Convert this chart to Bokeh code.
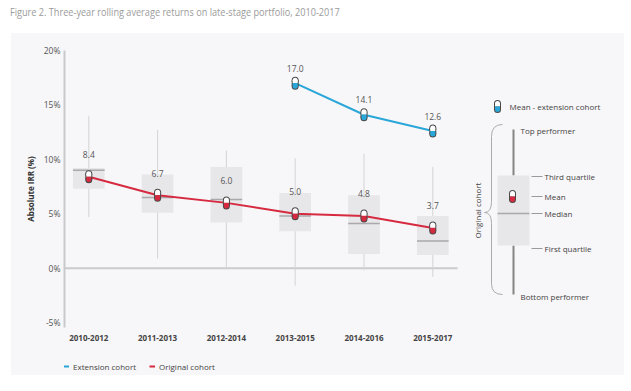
import math
from bokeh.plotting import figure
from bokeh.models import Range1d, FixedTicker, Legend, LegendItem, Div
from bokeh.layouts import column, row
from bokeh.embed import file_html
from bokeh.resources import INLINE
from bokeh.core.properties import value

# ---------------- data ----------------
categories = ["2010-2012", "2011-2013", "2012-2014", "2013-2015", "2014-2016", "2015-2017"]
orig_mean = [8.4, 6.7, 6.0, 5.0, 4.8, 3.7]
ext_categories = ["2013-2015", "2014-2016", "2015-2017"]
ext_mean = [17.0, 14.1, 12.6]
top_perf = [14.0, 12.7, 10.8, 10.1, 10.5, 9.3]
third_q = [9.2, 8.6, 9.3, 6.9, 6.7, 4.8]
median = [9.0, 6.5, 6.3, 4.8, 4.1, 2.5]
first_q = [7.3, 5.1, 4.2, 3.4, 1.3, 1.2]
bottom_perf = [4.7, 0.9, 0.0, -1.6, -0.2, -0.8]
y_ticks = [-5, 0, 5, 10, 15, 20]
y_tick_labels = ["-5%", "0%", "5%", "10%", "15%", "20%"]
series_names = ["Extension cohort", "Original cohort"]
key_labels = ["Third quartile", "Mean", "Median", "First quartile"]

# ---------------- style ----------------
PANEL = "#f7f6f8"
FONT = "Open Sans"
RED = "#d62a40"
BLUE = "#2aa7d8"
OUT = "#4a4a4a"
BOXC = "#e7e7e9"
WHISK = "#d4d4d6"
MEDC = "#a9a9ab"
TXT = "#444444"

xs = list(range(len(categories)))
ext_x = [categories.index(c) for c in ext_categories]

Y0, Y1 = -5.45, 20.0
PW = 458
LH = 23                      # legend strip height
TOTAL_H = 342
PH = TOTAL_H - LH
ML, MR, MT, MB = 53, 0, 17, PH - 17 - 277
FH, FW = PH - MT - MB, PW - ML - MR
XSTEP = 68.8
X0 = -0.353
X1 = X0 + FW / XSTEP
PPU = FH / (Y1 - Y0)  # pixels per y unit


def pill(fig, px, py, color, ppu):
    """Capsule marker: white top half, coloured bottom half. ppu = px per data unit upward."""
    d = 3.0 / ppu
    h = 1.5 / ppu
    up = [v + d for v in py]
    dn = [v - d for v in py]
    fig.scatter(px, up, size=7, marker="circle", fill_color=OUT, line_color=None)
    fig.scatter(px, dn, size=7, marker="circle", fill_color=OUT, line_color=None)
    fig.rect(px, py, width=7, height=6, width_units="screen", height_units="screen",
             fill_color=OUT, line_color=None)
    fig.scatter(px, up, size=5, marker="circle", fill_color="white", line_color=None)
    fig.rect(px, [v + h for v in py], width=5, height=3.2, width_units="screen",
             height_units="screen", fill_color="white", line_color=None)
    fig.scatter(px, dn, size=5, marker="circle", fill_color=color, line_color=None)
    fig.rect(px, [v - h for v in py], width=5, height=3.2, width_units="screen",
             height_units="screen", fill_color=color, line_color=None)


# ---------------- main chart ----------------
p = figure(title=None, width=PW, height=PH, x_range=Range1d(X0, X1), y_range=Range1d(Y0, Y1),
           output_backend="svg", toolbar_location=None,
           min_border_left=ML, min_border_right=MR, min_border_top=MT, min_border_bottom=MB,
           background_fill_color=PANEL, border_fill_color=PANEL, outline_line_color=None)
p.grid.visible = False

# zero line
p.segment(x0=[X0], y0=[0], x1=[len(categories) - 1 + 0.36], y1=[0], line_color="#cbcbcd", line_width=2)
# whiskers
p.segment(x0=xs, y0=bottom_perf, x1=xs, y1=top_perf, line_color=WHISK, line_width=1)
# boxes
BW = 0.46
p.quad(left=[v - BW / 2 for v in xs], right=[v + BW / 2 for v in xs], bottom=first_q, top=third_q,
       fill_color=BOXC, line_color=None)
# medians
p.segment(x0=[v - BW / 2 for v in xs], y0=median, x1=[v + BW / 2 for v in xs], y1=median,
          line_color=MEDC, line_width=1.5)

# mean lines
p.line(ext_x, ext_mean, line_color=BLUE, line_width=2)
p.line(xs, orig_mean, line_color=RED, line_width=2)
pill(p, xs, orig_mean, RED, PPU)
pill(p, ext_x, ext_mean, BLUE, PPU)

# value labels
p.text(xs, orig_mean, text=[f"{v:.1f}" for v in orig_mean], y_offset=-22,
       text_align="center", text_baseline="middle", text_font=value(FONT),
       text_font_size="8.5px", text_color="#555555")
p.text(ext_x, ext_mean, text=[f"{v:.1f}" for v in ext_mean], y_offset=-15,
       text_align="center", text_baseline="middle", text_font=value(FONT),
       text_font_size="8.5px", text_color="#555555")

# axes
p.xaxis.ticker = FixedTicker(ticks=xs)
p.xaxis.major_label_overrides = {i: c for i, c in zip(xs, categories)}
p.xaxis.axis_line_color = None
p.xaxis.major_tick_line_color = None
p.xaxis.minor_tick_line_color = None
p.xaxis.major_tick_out = 0
p.xaxis.major_label_standoff = 7
p.xaxis.major_label_text_font = FONT
p.xaxis.major_label_text_font_size = "8px"
p.xaxis.major_label_text_font_style = "bold"
p.xaxis.major_label_text_color = TXT

p.yaxis.ticker = FixedTicker(ticks=y_ticks)
p.yaxis.major_label_overrides = {t: l for t, l in zip(y_ticks, y_tick_labels)}
p.yaxis.axis_line_color = "#c9c9cb"
p.yaxis.axis_line_width = 2
p.yaxis.major_tick_line_color = None
p.yaxis.minor_tick_line_color = None
p.yaxis.major_tick_out = 0
p.yaxis.major_label_standoff = 4
p.yaxis.major_label_text_font = FONT
p.yaxis.major_label_text_font_size = "8.5px"
p.yaxis.major_label_text_color = "#555555"
p.yaxis.axis_label = "Absolute IRR (%)"
p.yaxis.axis_label_text_font = FONT
p.yaxis.axis_label_text_font_size = "8px"
p.yaxis.axis_label_text_font_style = "bold"
p.yaxis.axis_label_text_color = "#333333"
p.yaxis.axis_label_standoff = 5

# ---------------- legend strip ----------------
lg = figure(title=None, width=PW, height=LH, x_range=Range1d(0, 1), y_range=Range1d(0, 1),
            output_backend="svg", toolbar_location=None, x_axis_location=None, y_axis_location=None,
            min_border=0, min_border_left=0, min_border_right=0, min_border_top=0, min_border_bottom=0,
            background_fill_color=PANEL, border_fill_color=PANEL, outline_line_color=None)
lg.grid.visible = False
# single-point lines: invisible in the strip, used only as legend swatches
r_ext = lg.line(x=[0], y=[0], line_color=BLUE, line_width=2)
r_orig = lg.line(x=[0], y=[0], line_color=RED, line_width=2)
legend = Legend(items=[LegendItem(label=series_names[0], renderers=[r_ext]),
                       LegendItem(label=series_names[1], renderers=[r_orig])],
                orientation="horizontal", location=(-1, 3), margin=0, padding=0,
                glyph_width=6, glyph_height=12, label_height=12, label_standoff=4, spacing=13,
                label_text_font=FONT, label_text_font_size="8px", label_text_color=TXT,
                background_fill_alpha=0, border_line_color=None)
lg.add_layout(legend, "center")

# ---------------- key (explanation) panel ----------------
KW, KH = 155, TOTAL_H
k = figure(title=None, width=KW, height=KH, x_range=Range1d(0, KW), y_range=Range1d(KH, 0),
           output_backend="svg", toolbar_location=None, x_axis_location=None, y_axis_location=None,
           min_border=0, min_border_left=0, min_border_right=0, min_border_top=0, min_border_bottom=0,
           background_fill_color=PANEL, border_fill_color=PANEL, outline_line_color=None)
k.grid.visible = False

# extension mean key
pill(k, [28], [73], BLUE, -1.0)
k.text([40], [73], text=["Mean - extension cohort"], text_align="left", text_baseline="middle",
       text_font=value(FONT), text_font_size="8px", text_color=TXT)

# box key
k.segment(x0=[44, 44], y0=[96, 212], x1=[44, 44], y1=[142, 261], line_color="#858585", line_width=2)
k.quad(left=[28], right=[60], top=[142], bottom=[212], fill_color=BOXC, line_color=None)
k.segment(x0=[28], y0=[180], x1=[60], y1=[180], line_color=MEDC, line_width=1.5)
pill(k, [43], [163], RED, -1.0)
key_y = [143, 163, 180, 215]
k.segment(x0=[62] * 4, y0=key_y, x1=[73] * 4, y1=key_y, line_color="#9a9a9a", line_width=1)
k.text([75] * 4, key_y, text=key_labels, text_align="left", text_baseline="middle",
       text_font=value(FONT), text_font_size="8px", text_color=TXT)
k.text([51, 51], [97, 263], text=["Top performer", "Bottom performer"], text_align="left",
       text_baseline="middle", text_font=value(FONT), text_font_size="8px", text_color=TXT)

# brace
k.quadratic(x0=[33, 22, 15, 22], y0=[91, 168, 179, 250], x1=[22, 15, 22, 33], y1=[103, 179, 190, 261],
            cx=[22, 22, 22, 22], cy=[91, 179, 179, 261], line_color="#ababab", line_width=1)
k.segment(x0=[22, 22], y0=[103, 190], x1=[22, 22], y1=[168, 250], line_color="#ababab", line_width=1)
k.text([8], [177], text=["Original cohort"], angle=math.pi / 2, text_align="center",
       text_baseline="middle", text_font=value(FONT), text_font_size="8px", text_color=TXT)

# ---------------- title ----------------
title = Div(text='<div style="font-family:\'Open Sans\';font-size:10.5px;color:#9b9b9b;'
                 'white-space:nowrap;transform:scaleX(0.87);transform-origin:left center;'
                 'margin-top:5px;">Figure 2. Three-year rolling average returns on late-stage '
                 'portfolio, 2010-2017</div>',
            width=612, height=33, margin=(0, 0, 0, 10))

layout = column(title,
                row(column(p, lg, margin=0), k, margin=(0, 0, 0, 11),
                    styles={"background-color": PANEL}),
                margin=0)
open("out.html", "w").write(file_html(layout, INLINE))
